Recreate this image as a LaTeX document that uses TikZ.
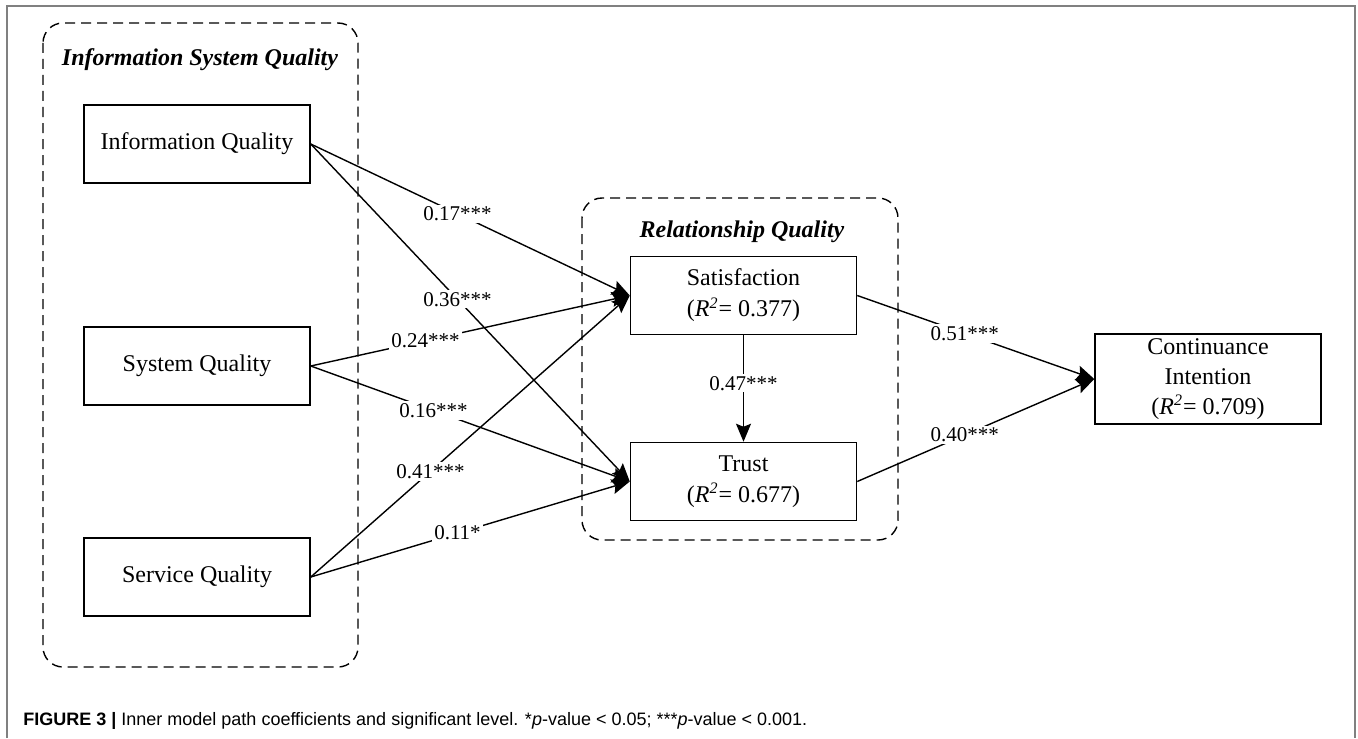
\documentclass[tikz,border=0pt]{standalone}
\usepackage{fontspec}
\setmainfont{Liberation Serif}
\newfontfamily\capfont{Liberation Sans}
\usetikzlibrary{arrows.meta, positioning}

\begin{document}
\begin{tikzpicture}[
        x = 0.5pt, y = -0.5pt, on grid,
        >= {Stealth[length = 9pt, width = 7.5pt, inset = 1.5pt]},
        box/.style = {draw, line width = 0.75pt, minimum width = 113pt, minimum height = 39pt,
            inner sep = 0pt, align = center, font = \fontsize{12}{15.5}\selectfont},
        group/.style = {draw, dash pattern = on 5pt off 3pt, line width = 0.7pt, rounded corners = 10pt},
        grouptitle/.style = {font = \fontsize{12}{14}\selectfont\bfseries\itshape},
        coef/.style = {fill = white, inner sep = 1pt, font = \fontsize{10.5}{12}\selectfont},
        effect/.style = {->, line width = 0.7pt},
        frame/.style = {draw = black!50, line width = 1pt}
    ]
    \useasboundingbox (0,0) rectangle (1358,738);
    \draw[frame] (7,738) |- (1355,6) -- (1355,738);

    % construct groups
    \draw[group] (43,23) rectangle (358,667);
    \node[grouptitle] (isqtitle) at (200,60) {Information System Quality};
    \draw[group] (582,198) rectangle (898,540);
    \node[grouptitle] (rqtitle) at (742,232) {Relationship Quality};

    % constructs
    \node[box] (info) at (197,144) {Information Quality};
    \node[box] (sys) [below = 111pt of info] {System Quality};
    \node[box] (serv) [below = 105.5pt of sys] {Service Quality};
    \node[box] (sat) at (743.5,295.5) {Satisfaction\\(\textit{R\textsuperscript{2}}= 0.377)};
    \node[box] (trust) [below = 93pt of sat] {Trust\\(\textit{R\textsuperscript{2}}= 0.677)};
    \node[box, minimum height = 45pt, font = \fontsize{12}{15}\selectfont] (cont) at (1208,379)
      {Continuance\\Intention\\(\textit{R\textsuperscript{2}}= 0.709)};

    % path coefficients
    \path[effect]
      (info.east) edge node[coef, pos = 0.46] {0.17***} (sat.west)
      (info.east) edge node[coef, pos = 0.46] {0.36***} (trust.west)
      (sys.east) edge node[coef, pos = 0.36] {0.24***} (sat.west)
      (sys.east) edge node[coef, pos = 0.385] {0.16***} (trust.west)
      (serv.east) edge node[coef, pos = 0.375] {0.41***} (sat.west)
      (serv.east) edge node[coef, pos = 0.46] {0.11*} (trust.west)
      (sat.south) edge node[coef, pos = 0.45] {0.47***} (trust.north)
      (sat.east) edge node[coef, pos = 0.454] {0.51***} (cont.west)
      (trust.east) edge node[coef, pos = 0.454] {0.40***} (cont.west);

    \node[anchor = base west, inner sep = 0pt, font = \capfont\fontsize{9}{11}\selectfont] (caption) at (23,725)
      {\textbf{FIGURE 3 |} Inner model path coefficients and significant level. *\textit{p}-value < 0.05; ***\textit{p}-value < 0.001.};
\end{tikzpicture}
\end{document}
